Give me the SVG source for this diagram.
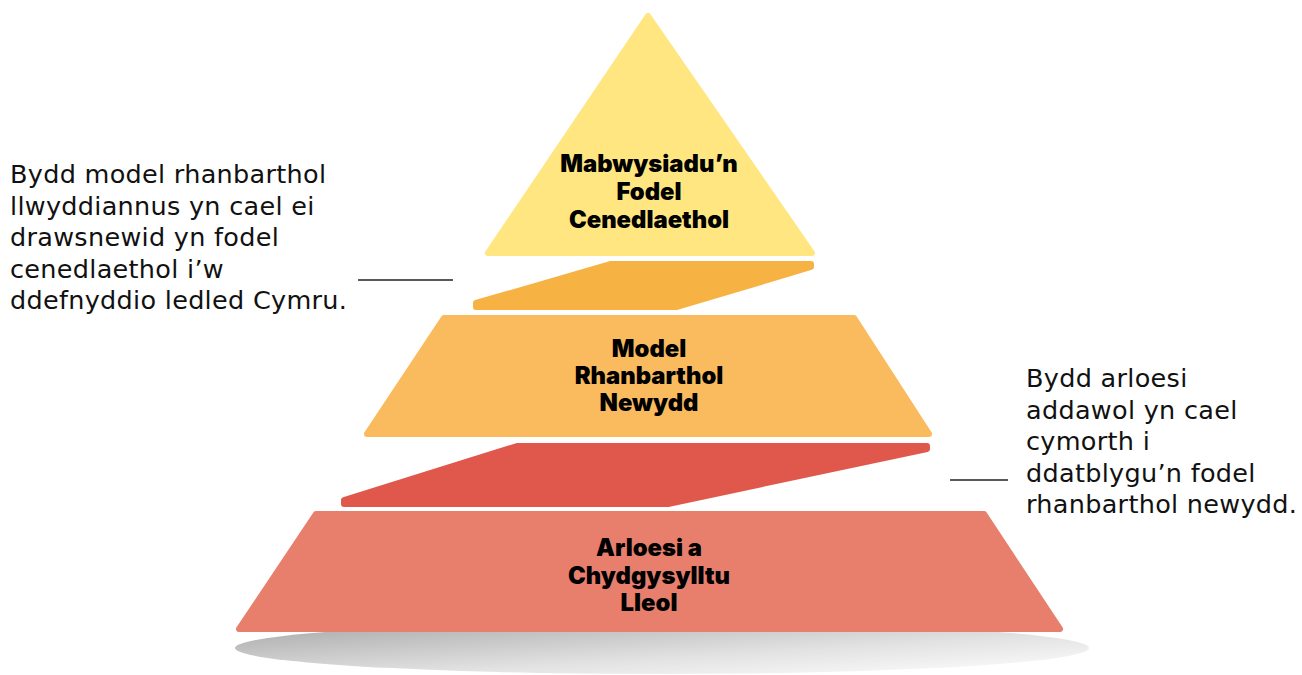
<svg xmlns="http://www.w3.org/2000/svg" width="1302" height="675" viewBox="0 0 1302 675">
<defs>
<linearGradient id="shadow" x1="0" y1="0" x2="1" y2="1">
<stop offset="0" stop-color="#a6a6a6"/>
<stop offset="0.6" stop-color="#e2e2e2"/>
<stop offset="1" stop-color="#ffffff"/>
</linearGradient>
</defs>
<style>
.shape{stroke-width:6;stroke-linejoin:round}
.lbl{font-family:Inter,"Noto Sans",sans-serif;font-weight:900;font-size:23.8px;fill:#000;text-anchor:middle}
.note{font-family:"DejaVu Sans","Noto Sans",sans-serif;font-size:25.5px;letter-spacing:0.3px;fill:#111}
.lead{stroke:#222;stroke-width:1.6}
</style>
<rect width="1302" height="675" fill="#ffffff"/>
<ellipse cx="662" cy="648" rx="427" ry="26" fill="url(#shadow)"/>
<g id="level-top">
<polygon class="shape" points="648,16 488,253 812,253" fill="#FFE680" stroke="#FFE680"/>
<text class="lbl" x="649" y="172">Mabwysiadu’n</text>
<text class="lbl" x="649" y="200">Fodel</text>
<text class="lbl" x="649" y="228">Cenedlaethol</text>
</g>
<g id="level-middle">
<polygon class="shape" points="444,318 854,318 929,434 367,434" fill="#F9BB5D" stroke="#F9BB5D"/>
<text class="lbl" x="649" y="357">Model</text>
<text class="lbl" x="649" y="384">Rhanbarthol</text>
<text class="lbl" x="649" y="411">Newydd</text>
</g>
<g id="level-bottom">
<polygon class="shape" points="316,514 984,514 1060,629 239,629" fill="#E87F6D" stroke="#E87F6D"/>
<text class="lbl" x="649" y="556">Arloesi a</text>
<text class="lbl" x="649" y="584">Chydgysylltu</text>
<text class="lbl" x="649" y="611">Lleol</text>
</g>
<g id="connectors">
<polygon class="shape" points="611,264 811,264 811,267 677,307 476,307 476,303" fill="#F7B244" stroke="#F7B244"/>
<polygon class="shape" points="517,446 927,446 927,449 668,504 344,504 344,500" fill="#E0574B" stroke="#E0574B"/>
<line class="lead" x1="358" y1="280" x2="453" y2="280"/>
<line class="lead" x1="950" y1="480" x2="1008" y2="480"/>
</g>
<g id="note-left">
<text class="note" x="10" y="183">Bydd model rhanbarthol</text>
<text class="note" x="10" y="214.5">llwyddiannus yn cael ei</text>
<text class="note" x="10" y="246">drawsnewid yn fodel</text>
<text class="note" x="10" y="277.5">cenedlaethol i’w</text>
<text class="note" x="10" y="309">ddefnyddio ledled Cymru.</text>
</g>
<g id="note-right">
<text class="note" x="1026" y="387">Bydd arloesi</text>
<text class="note" x="1026" y="418.5">addawol yn cael</text>
<text class="note" x="1026" y="450">cymorth i</text>
<text class="note" x="1026" y="481.5">ddatblygu’n fodel</text>
<text class="note" x="1026" y="513">rhanbarthol newydd.</text>
</g>
</svg>
